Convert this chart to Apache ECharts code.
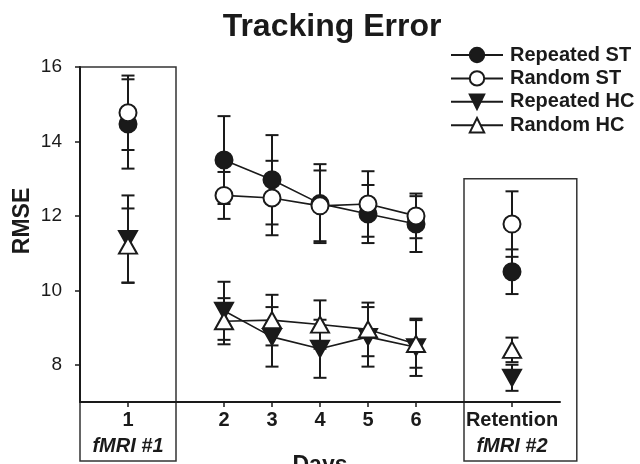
<!DOCTYPE html>
<html>
<head>
<meta charset="utf-8">
<script src="https://cdn.jsdelivr.net/npm/echarts@6/dist/echarts.min.js"></script>
<style>html,body{margin:0;padding:0;background:#fff;}#c{width:640px;height:464px;}</style>
</head>
<body>
<div id="c"></div>
<script>
// positions on the x scale and their tick labels
var xPositions = [0, 2, 3, 4, 5, 6, 8];
var xLabels = ['1', '2', '3', '4', '5', '6', 'Retention'];
var xSubLabels = ['fMRI #1', '', '', '', '', '', 'fMRI #2'];
var yTicks = [8, 10, 12, 14, 16];

var repeatedST = [14.47, 13.5, 12.97, 12.33, 12.05, 11.78, 10.5];
var repeatedSTErr = [1.2, 1.18, 1.2, 1.06, 0.78, 0.75, 0.6];
var randomST = [14.77, 12.55, 12.48, 12.27, 12.32, 12.0, 11.78];
var randomSTErr = [1.0, 0.63, 1.0, 0.95, 0.88, 0.6, 0.88];
var repeatedHC = [11.38, 9.45, 8.75, 8.43, 8.75, 8.47, 7.65];
var repeatedHCErr = [1.17, 0.78, 0.8, 0.78, 0.8, 0.77, 0.35];
var randomHC = [11.2, 9.17, 9.2, 9.08, 8.95, 8.56, 8.4];
var randomHCErr = [1.0, 0.62, 0.68, 0.65, 0.72, 0.64, 0.33];

var INK = '#1a1a1a';

function lineData(vals) {
  var out = [];
  for (var i = 0; i < vals.length; i++) {
    if (i > 0 && xPositions[i] - xPositions[i - 1] > 1) out.push([xPositions[i] - 1, '-']);
    out.push([xPositions[i], vals[i]]);
  }
  return out;
}
function errData(vals, errs) {
  return vals.map(function (v, i) { return [xPositions[i], v - errs[i], v + errs[i]]; });
}
function errSeries(vals, errs) {
  return {
    type: 'custom', z: 1, silent: true,
    data: errData(vals, errs),
    encode: { x: 0, y: [1, 2] },
    renderItem: function (params, api) {
      var x = api.value(0);
      var lo = api.coord([x, api.value(1)]);
      var hi = api.coord([x, api.value(2)]);
      var h = 6.5;
      var st = { stroke: INK, lineWidth: 2 };
      return { type: 'group', children: [
        { type: 'line', shape: { x1: lo[0], y1: lo[1], x2: hi[0], y2: hi[1] }, style: st },
        { type: 'line', shape: { x1: lo[0] - h, y1: lo[1], x2: lo[0] + h, y2: lo[1] }, style: st },
        { type: 'line', shape: { x1: hi[0] - h, y1: hi[1], x2: hi[0] + h, y2: hi[1] }, style: st }
      ] };
    }
  };
}
function mainSeries(name, vals, symbol, size, rotate, fill) {
  return {
    name: name, type: 'line', z: 3,
    data: lineData(vals),
    symbol: symbol, symbolSize: size, symbolRotate: rotate,
    showSymbol: true, connectNulls: false,
    lineStyle: { color: INK, width: 1.6 },
    itemStyle: { color: fill, borderColor: INK, borderWidth: 2 },
    emphasis: { disabled: true }
  };
}

var chart = echarts.init(document.getElementById('c'));
var option = {
  animation: false,
  title: {
    text: 'Tracking Error', left: 327, top: 6, textAlign: 'center',
    textStyle: { fontFamily: 'Liberation Sans', fontSize: 32, fontWeight: 'bold', color: INK }
  },
  legend: {
    orient: 'vertical', left: 445, top: 40, itemWidth: 52, itemHeight: 18, itemGap: 3.4,
    data: ['Repeated ST', 'Random ST', 'Repeated HC', 'Random HC'],
    textStyle: { fontFamily: 'Liberation Sans', fontSize: 20, fontWeight: 'bold', color: INK, lineHeight: 18, padding: [0, 0, 0, 2] }
  },
  grid: { left: 80, right: 80, top: 67, bottom: 62, outerBoundsMode: 'none', containLabel: false },
  xAxis: {
    type: 'value', min: -1, max: 9,
    splitLine: { show: false },
    axisLine: { onZero: false, lineStyle: { color: INK, width: 2 } },
    axisTick: { customValues: xPositions, length: 5, lineStyle: { color: INK, width: 1.5 } },
    axisLabel: {
      customValues: xPositions, margin: 5,
      formatter: function (v) {
        var i = xPositions.indexOf(v);
        if (i < 0) return '';
        return '{b|' + xLabels[i] + '}' + (xSubLabels[i] ? '\n{i|' + xSubLabels[i] + '}' : '');
      },
      rich: {
        b: { fontFamily: 'Liberation Sans', fontSize: 20, fontWeight: 'bold', color: INK, lineHeight: 26 },
        i: { fontFamily: 'Liberation Sans', fontSize: 20, fontWeight: 'bold', fontStyle: 'italic', color: INK, lineHeight: 26 }
      }
    },
    name: 'Days', nameLocation: 'middle', nameGap: 52, nameMoveOverlap: false,
    nameTextStyle: { fontFamily: 'Liberation Sans', fontSize: 23, fontWeight: 'bold', color: INK }
  },
  yAxis: {
    type: 'value', min: 7, max: 16,
    splitLine: { show: false },
    axisLine: { show: true, onZero: false, lineStyle: { color: INK, width: 2 } },
    axisTick: { show: true, customValues: yTicks, length: 5, lineStyle: { color: INK, width: 1.5 } },
    axisLabel: { customValues: yTicks, margin: 18, fontFamily: 'Liberation Sans', fontSize: 19, color: INK }
  },
  series: [
    errSeries(repeatedST, repeatedSTErr),
    errSeries(randomST, randomSTErr),
    errSeries(repeatedHC, repeatedHCErr),
    errSeries(randomHC, randomHCErr),
    mainSeries('Repeated ST', repeatedST, 'circle', 17, 0, INK),
    mainSeries('Random ST', randomST, 'circle', 17, 0, '#fff'),
    mainSeries('Repeated HC', repeatedHC, 'triangle', [18, 16], 180, INK),
    mainSeries('Random HC', randomHC, 'triangle', [18, 16], 0, '#fff')
  ]
};
chart.setOption(option);

// session boxes around the fMRI sessions, positioned through the axes
var b1a = chart.convertToPixel({ gridIndex: 0 }, [-1, 16]);
var b1b = chart.convertToPixel({ gridIndex: 0 }, [1, 7]);
var b2a = chart.convertToPixel({ gridIndex: 0 }, [7, 13]);
var b2b = chart.convertToPixel({ gridIndex: 0 }, [9.35, 7]);
var boxBottom = 461;
chart.setOption({
  graphic: [
    { type: 'rect', z: 0, shape: { x: b1a[0], y: b1a[1], width: b1b[0] - b1a[0], height: boxBottom - b1a[1] },
      style: { fill: 'none', stroke: '#333', lineWidth: 1.5 } },
    { type: 'rect', z: 0, shape: { x: b2a[0], y: b2a[1], width: b2b[0] - b2a[0], height: boxBottom - b2a[1] },
      style: { fill: 'none', stroke: '#333', lineWidth: 1.5 } },
    { type: 'text', x: 23, y: 221, rotation: Math.PI / 2,
      style: { text: 'RMSE', fontFamily: 'Liberation Sans', fontSize: 23, fontWeight: 'bold', fill: INK, align: 'center', verticalAlign: 'middle' } }
  ]
});
</script>
</body>
</html>
